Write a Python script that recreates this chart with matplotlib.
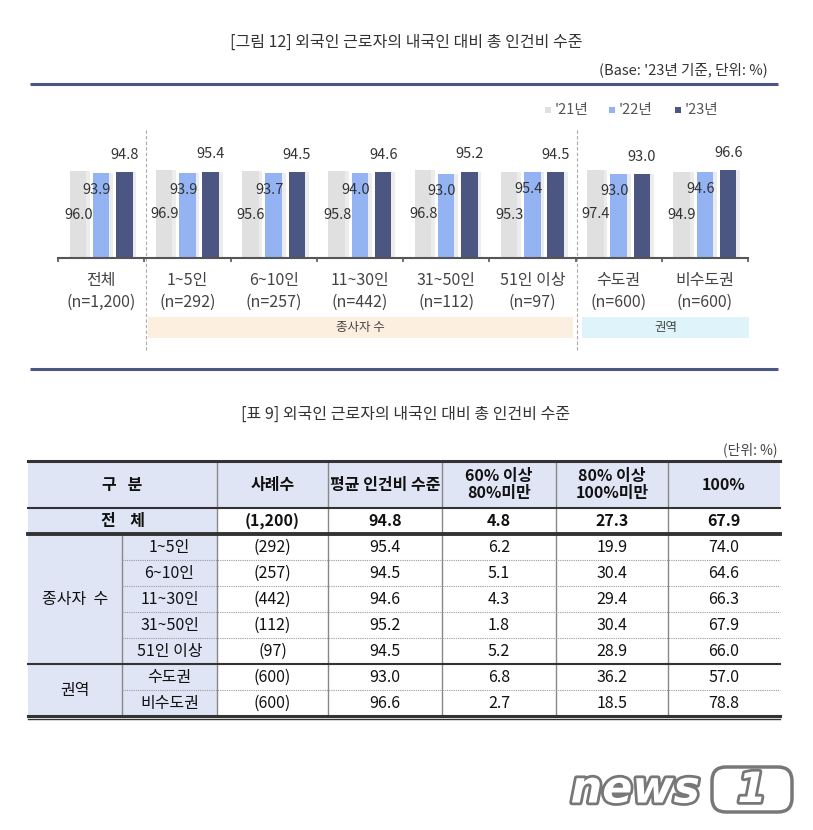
import numpy as np
import matplotlib
matplotlib.use('Agg')
import matplotlib.pyplot as plt
from matplotlib.patches import Rectangle, FancyBboxPatch
import matplotlib.patheffects as pe

plt.rcParams['font.family'] = ['Noto Sans CJK KR', 'DejaVu Sans']

# 차트 데이터
categories = ['전체', '1~5인', '6~10인', '11~30인', '31~50인', '51인 이상', '수도권', '비수도권']
n_labels = ['(n=1,200)', '(n=292)', '(n=257)', '(n=442)', '(n=112)', '(n=97)', '(n=600)', '(n=600)']
years = ["'21년", "'22년", "'23년"]
v21 = [96.0, 96.9, 95.6, 95.8, 96.8, 95.3, 97.4, 94.9]
v22 = [93.9, 93.9, 93.7, 94.0, 93.0, 95.4, 93.0, 94.6]
v23 = [94.8, 95.4, 94.5, 94.6, 95.2, 94.5, 93.0, 96.6]
colors = ['#e0e0e0', '#94b3f3', '#4b5682']

# 표 데이터
tbl_sub = ['1~5인', '6~10인', '11~30인', '31~50인', '51인 이상', '수도권', '비수도권']
tbl_n = ['(1,200)', '(292)', '(257)', '(442)', '(112)', '(97)', '(600)', '(600)']
tbl_avg = [94.8, 95.4, 94.5, 94.6, 95.2, 94.5, 93.0, 96.6]
tbl_60 = [4.8, 6.2, 5.1, 4.3, 1.8, 5.2, 6.8, 2.7]
tbl_80 = [27.3, 19.9, 30.4, 29.4, 30.4, 28.9, 36.2, 18.5]
tbl_100 = [67.9, 74.0, 64.6, 66.3, 67.9, 66.0, 57.0, 78.8]
headers = ['사례수', '평균 인건비 수준', '60% 이상\n80%미만', '80% 이상\n100%미만', '100%']

W, H = 813, 830
fig = plt.figure(figsize=(W / 100, H / 100), dpi=100)
fig.patch.set_facecolor('white')

# 픽셀 좌표용 배경 축
bg = fig.add_axes([0, 0, 1, 1])
bg.set_xlim(0, W)
bg.set_ylim(H, 0)
bg.axis('off')

txt = '#333333'

# 제목
bg.text(406, 42, '[그림 12] 외국인 근로자의 내국인 대비 총 인건비 수준', ha='center', va='center',
        fontsize=11.5, color=txt)
bg.text(768, 70, "(Base: '23년 기준, 단위: %)", ha='right', va='center', fontsize=10.5, color=txt)
bg.plot([30, 778], [84, 84], color='#4a5684', lw=2.2, solid_capstyle='butt')
bg.plot([30, 778], [369, 369], color='#4a5684', lw=2.2, solid_capstyle='butt')

# 범례
lx = [548, 612, 678]
for x0, lab, c in zip(lx, years, colors):
    bg.add_patch(Rectangle((x0 - 3, 107), 6, 6, color=c, lw=0))
    bg.text(x0 + 7, 110, lab, ha='left', va='center', fontsize=10.5, color='#555555')

# 막대 차트
x_left, x_right, base_y, top_y = 58, 748, 258, 130
ax = fig.add_axes([x_left / W, 1 - base_y / H, (x_right - x_left) / W, (base_y - top_y) / H])
ax.set_xlim(-0.5, len(categories) - 0.5)
ax.set_ylim(0, (base_y - top_y) / 0.906)
ax.set_facecolor('none')
for s in ['top', 'right', 'left']:
    ax.spines[s].set_visible(False)
ax.spines['bottom'].set_color('#555555')
ax.spines['bottom'].set_linewidth(1.5)
ax.set_yticks([])
ax.set_xticks(np.arange(-0.5, len(categories), 1.0))
ax.set_xticklabels([])
ax.tick_params(axis='x', length=3, width=1.2, color='#555555', direction='out')

x = np.arange(len(categories))
offs = [-0.27, 0.0, 0.27]
bw = 0.19
for vals, off, c in zip([v21, v22, v23], offs, colors):
    ax.bar(x + off + 0.045, vals, bw, color='#ececec', zorder=1)
    ax.bar(x + off, vals, bw, color=c, zorder=2)

for i in range(len(categories)):
    ax.text(x[i] + offs[0] + 0.17, v21[i] * 0.5, f'{v21[i]:.1f}', ha='right', va='center',
            fontsize=10.5, color=txt, zorder=3)
    ax.text(x[i] + offs[1] - 0.05, v22[i] * 0.8, f'{v22[i]:.1f}', ha='center', va='center',
            fontsize=10.5, color=txt, zorder=3)
    ax.text(x[i] + offs[2], v23[i] * 1.2, f'{v23[i]:.1f}', ha='center', va='center',
            fontsize=10.5, color=txt, zorder=3, clip_on=False)
    cx = x_left + (x[i] + 0.5) * (x_right - x_left) / len(categories)
    bg.text(cx, 280, categories[i], ha='center', va='center', fontsize=11.5, color='#444444')
    bg.text(cx, 302, n_labels[i], ha='center', va='center', fontsize=11.5, color='#444444')

# 구분 점선
for xs in [146, 577]:
    bg.plot([xs, xs], [130, 352], color='#aaaaaa', lw=0.8, ls=(0, (3, 2)))

# 그룹 띠
bg.add_patch(Rectangle((148, 317), 573 - 148, 21, color='#fdefdf', lw=0))
bg.text((148 + 573) / 2, 327.5, '종사자 수', ha='center', va='center', fontsize=9, color='#444444')
bg.add_patch(Rectangle((582, 317), 749 - 582, 21, color='#def3fa', lw=0))
bg.text((582 + 749) / 2, 327.5, '권역', ha='center', va='center', fontsize=9, color='#444444')

# 표
bg.text(406, 414, '[표 9] 외국인 근로자의 내국인 대비 총 인건비 수준', ha='center', va='center',
        fontsize=11.5, color=txt)
bg.text(777, 450, '(단위: %)', ha='right', va='center', fontsize=10, color='#444444')

cols = [28, 122, 217, 328, 442, 556, 668, 780]
head_top, head_bot = 461, 508
row_h = 26
rows = [head_bot + row_h * k for k in range(len(tbl_n) + 1)]  # 508 ... 716
hdr_bg = '#dfe5f5'
tc = '#111111'
fs = 11.5

bg.add_patch(Rectangle((cols[0], head_top), cols[-1] - cols[0], head_bot - head_top, color=hdr_bg, lw=0))
bg.add_patch(Rectangle((cols[0], rows[0]), cols[2] - cols[0], rows[-1] - rows[0], color=hdr_bg, lw=0))

# 세로선
for cxl in cols[2:-1]:
    bg.plot([cxl, cxl], [head_top, rows[-1]], color='#888888', lw=1)
bg.plot([cols[1], cols[1]], [rows[1], rows[-1]], color='#888888', lw=1)

# 가로선
bg.plot([cols[0], cols[-1]], [head_top, head_top], color='#333333', lw=2.2)
bg.plot([cols[0], cols[-1]], [head_bot, head_bot], color='#333333', lw=1.5)
bg.plot([cols[0], cols[-1]], [rows[1], rows[1]], color='#333333', lw=2.8)
for k in [2, 3, 4, 5, 7]:
    bg.plot([cols[1], cols[-1]], [rows[k], rows[k]], color='#999999', lw=0.8, ls=(0, (1, 1)))
bg.plot([cols[0], cols[-1]], [rows[6], rows[6]], color='#333333', lw=1.5)
bg.plot([cols[0], cols[-1]], [rows[-1], rows[-1]], color='#333333', lw=2.2)
bg.plot([cols[0], cols[-1]], [rows[-1] + 3, rows[-1] + 3], color='#333333', lw=1)

# 머리글
hy = (head_top + head_bot) / 2
bg.text((cols[0] + cols[2]) / 2, hy, '구   분', ha='center', va='center', fontsize=fs,
        fontweight='bold', color=tc)
for j, h in enumerate(headers):
    bg.text((cols[j + 2] + cols[j + 3]) / 2, hy, h, ha='center', va='center', fontsize=fs,
            fontweight='bold', color=tc, linespacing=1.15)

# 본문
for r in range(len(tbl_n)):
    ry = (rows[r] + rows[r + 1]) / 2
    fw = 'bold' if r == 0 else 'normal'
    if r == 0:
        bg.text((cols[0] + cols[2]) / 2, ry, '전    체', ha='center', va='center', fontsize=fs,
                fontweight='bold', color=tc)
    else:
        bg.text((cols[1] + cols[2]) / 2, ry, tbl_sub[r - 1], ha='center', va='center',
                fontsize=fs, color=tc)
    vals = [tbl_n[r], f'{tbl_avg[r]:.1f}', f'{tbl_60[r]:.1f}', f'{tbl_80[r]:.1f}', f'{tbl_100[r]:.1f}']
    for j, v in enumerate(vals):
        bg.text((cols[j + 2] + cols[j + 3]) / 2, ry, v, ha='center', va='center', fontsize=fs,
                fontweight=fw, color=tc)

bg.text((cols[0] + cols[1]) / 2, (rows[1] + rows[6]) / 2, '종사자  수', ha='center', va='center',
        fontsize=fs, color=tc)
bg.text((cols[0] + cols[1]) / 2, (rows[6] + rows[8]) / 2, '권역', ha='center', va='center',
        fontsize=fs, color=tc)

# 워터마크
shadow = [pe.withStroke(linewidth=4, foreground='#777777')]
bg.text(700, 790, 'news', ha='right', va='center', fontsize=32, fontstyle='italic',
        fontweight='bold', color='white', family='DejaVu Sans', path_effects=shadow)
bg.add_patch(FancyBboxPatch((712, 767), 80, 45, boxstyle='round,pad=0,rounding_size=14',
                            facecolor='white', edgecolor='#777777', lw=2.5,
                            transform=bg.transData))
bg.text(752, 790, '1', ha='center', va='center', fontsize=30, fontstyle='italic',
        fontweight='bold', color='white', family='DejaVu Sans', path_effects=shadow)

fig.savefig('out.png', dpi=100)
